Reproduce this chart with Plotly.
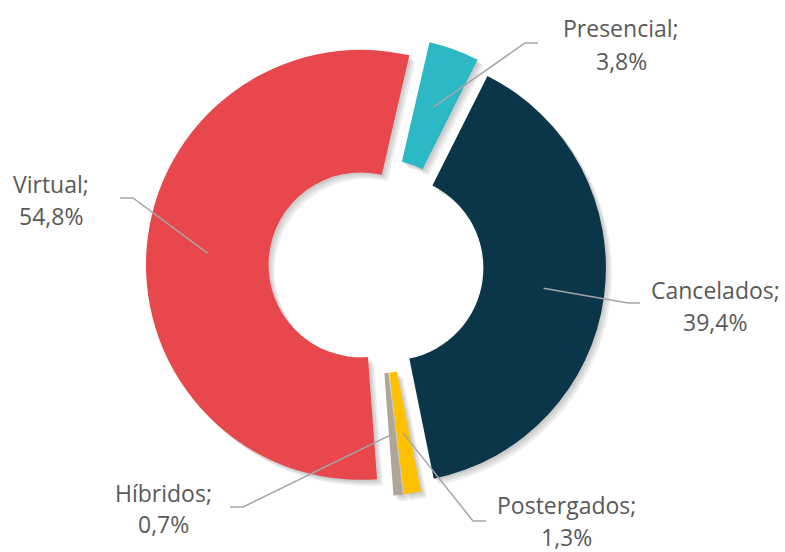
import numpy as np
import plotly.graph_objects as go

# data
labels = ["Presencial", "Cancelados", "Postergados", "Híbridos", "Virtual"]
values = [3.8, 39.4, 1.3, 0.7, 54.8]
value_text = ["3,8%", "39,4%", "1,3%", "0,7%", "54,8%"]
colors = ["#2CB9C5", "#0B3649", "#FFC000", "#AEA698", "#E8474C"]

# layout constants (pixels)
W, H = 785, 552
CX, CY, R = 376, 266, 215
PULL = 0.07
HOLE = 0.43
ROT = 13
TEXT = "#595959"

# label placement: elbow, line end, text x, name y, value y
label_pos = {
    "Presencial": ((525, 43), (538, 43), 621, 28, 61),
    "Cancelados": ((628, 303), (640, 303), 715, 290, 322),
    "Postergados": ((473, 521), (486, 521), 566, 505, 537),
    "Híbridos": ((243, 507), (230, 507), 163, 493, 524),
    "Virtual": ((133, 198), (120, 198), 51, 184, 216),
}


def px(x):
    return x / W


def py(y):
    return 1 - y / H


def domain(dx=0, dy=0):
    half = R * (1 + PULL)
    return dict(x=[px(CX - half + dx), px(CX + half + dx)],
                y=[py(CY + half + dy), py(CY - half + dy)])


fig = go.Figure()

# soft shadow: a few faint copies shifted down-right
for off in (6, 4, 2):
    fig.add_trace(go.Pie(
        labels=labels, values=values, sort=False, direction="clockwise",
        rotation=ROT, hole=HOLE, pull=[PULL] * len(values),
        marker=dict(colors=["rgba(0,0,0,0.07)"] * len(values), line=dict(width=0)),
        textinfo="none", hoverinfo="skip", showlegend=False, domain=domain(off, off),
    ))

fig.add_trace(go.Pie(
    labels=labels, values=values, sort=False, direction="clockwise",
    rotation=ROT, hole=HOLE, pull=[PULL] * len(values),
    marker=dict(colors=colors, line=dict(width=0)),
    textinfo="none", showlegend=False, domain=domain(),
))

# leader lines + labels
cum = np.cumsum([0] + values[:-1])
total = sum(values)
for lab, v, c0, vt in zip(labels, values, cum, value_text):
    ang = np.radians(ROT + 360 * (c0 + v / 2) / total)
    r_in = 0.786 * R
    x0, y0 = CX + r_in * np.sin(ang), CY - r_in * np.cos(ang)
    (ex, ey), (lx, ly), tx, ny, vy = label_pos[lab]
    fig.add_shape(type="path", xref="paper", yref="paper",
                  path=f"M {px(x0)},{py(y0)} L {px(ex)},{py(ey)} L {px(lx)},{py(ly)}",
                  line=dict(color="#A6A6A6", width=1.5))
    fig.add_annotation(x=px(tx), y=py(ny), xref="paper", yref="paper",
                       text=lab + ";", showarrow=False, xanchor="center", yanchor="middle")
    fig.add_annotation(x=px(tx), y=py(vy), xref="paper", yref="paper",
                       text=vt, showarrow=False, xanchor="center", yanchor="middle")

fig.update_annotations(font=dict(family="Open Sans", size=23, color=TEXT))
fig.update_layout(width=W, height=H, margin=dict(l=0, r=0, t=0, b=0),
                  paper_bgcolor="white", plot_bgcolor="white", showlegend=False)

# drop the browser's default body margin so the figure sits at the page corner
fig.write_html("out.html", config={"displayModeBar": False},
               post_script="document.body.style.margin = '0';")
